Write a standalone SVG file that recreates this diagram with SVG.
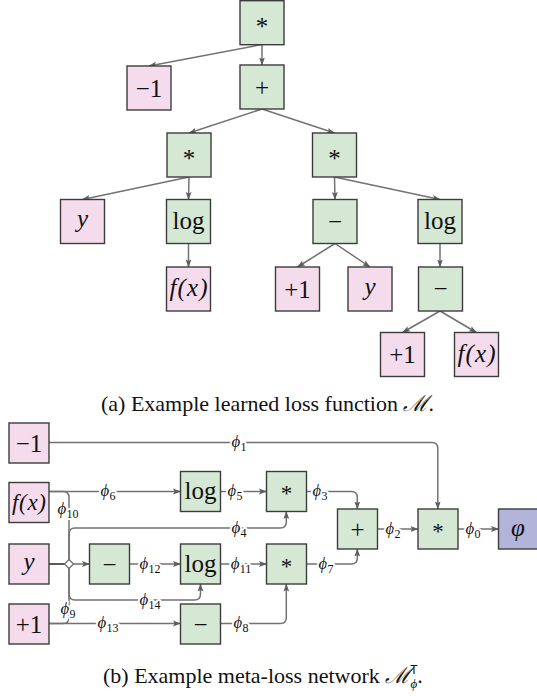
<svg xmlns="http://www.w3.org/2000/svg" width="537" height="696" viewBox="0 0 537 696">
<style>
  .pk { fill:#f4dcec; stroke:#3c3c3c; stroke-width:1.4; }
  .gn { fill:#d5e8d4; stroke:#3c3c3c; stroke-width:1.4; }
  .pu { fill:#b3b4da; stroke:#3c3c3c; stroke-width:1.4; }
  .e  { fill:none; stroke:#727272; stroke-width:1.5; }
  .ea { fill:none; stroke:#727272; stroke-width:1.5; marker-end:url(#ah); }
  .t  { font-family:"Liberation Serif",serif; font-size:25px; text-anchor:middle; fill:#111; }
  .s  { font-size:23px; }
  .i  { font-style:italic; }
  .ph { font-family:"Liberation Serif",serif; font-style:italic; font-size:17px; text-anchor:middle; fill:#111;
        stroke:#fff; stroke-width:4; stroke-linejoin:round; paint-order:stroke; }
  .sb { font-style:normal; font-size:12px; }
  .cap { font-family:"Liberation Serif",serif; font-size:22px; fill:#111; }
</style>
<defs>
  <marker id="ah" viewBox="0 0 8 7" refX="7.5" refY="3.5" markerWidth="8" markerHeight="7" markerUnits="userSpaceOnUse" orient="auto">
    <path d="M0,0.6 L8,3.5 L0,6.4 L1.6,3.5 Z" fill="#5e5e5e"/>
  </marker>
</defs>

<!-- ===== expression tree ===== -->
<g id="tree-edges">
  <line class="ea" x1="262" y1="44.5" x2="149" y2="66"/>
  <line class="ea" x1="262" y1="44.5" x2="262" y2="65"/>
  <line class="ea" x1="262" y1="109" x2="189" y2="133"/>
  <line class="ea" x1="262" y1="109" x2="334.5" y2="133"/>
  <line class="ea" x1="189" y1="177" x2="82.5" y2="199.5"/>
  <line class="ea" x1="189" y1="177" x2="188.5" y2="199.5"/>
  <line class="ea" x1="334.5" y1="177" x2="335" y2="199.5"/>
  <line class="ea" x1="334.5" y1="177" x2="440" y2="199.5"/>
  <line class="ea" x1="188.5" y1="243.5" x2="188.5" y2="267"/>
  <line class="ea" x1="335" y1="243.5" x2="297.5" y2="267"/>
  <line class="ea" x1="335" y1="243.5" x2="370" y2="267"/>
  <line class="ea" x1="440" y1="243.5" x2="440" y2="267"/>
  <line class="ea" x1="440" y1="311" x2="402.5" y2="332.5"/>
  <line class="ea" x1="440" y1="311" x2="476.5" y2="332.5"/>
</g>

<g id="t-mul-root"><rect class="gn" x="240" y="0.7" width="44" height="44"/><text class="t" x="262" y="34.5">*</text></g>
<g id="t-neg1"><rect class="pk" x="127" y="66" width="44" height="44"/><text class="t" x="149" y="96.5">−1</text></g>
<g id="t-add"><rect class="gn" x="240" y="65" width="44" height="44"/><text class="t" x="262" y="96">+</text></g>
<g id="t-mul-l"><rect class="gn" x="167" y="133" width="44" height="44"/><text class="t" x="189" y="167">*</text></g>
<g id="t-mul-r"><rect class="gn" x="312.5" y="133" width="44" height="44"/><text class="t" x="334.5" y="167">*</text></g>
<g id="t-y1"><rect class="pk" x="60.5" y="199.5" width="44" height="44"/><text class="t i" x="82.5" y="227">y</text></g>
<g id="t-log1"><rect class="gn" x="166.5" y="199.5" width="44" height="44"/><text class="t" x="188.5" y="229">log</text></g>
<g id="t-sub1"><rect class="gn" x="313" y="199.5" width="44" height="44"/><text class="t" x="335" y="229.5">−</text></g>
<g id="t-log2"><rect class="gn" x="418" y="199.5" width="44" height="44"/><text class="t" x="440" y="229">log</text></g>
<g id="t-fx1"><rect class="pk" x="166.5" y="267" width="44" height="44"/><text class="t i" x="188.5" y="296" textLength="38" lengthAdjust="spacing">f(x)</text></g>
<g id="t-pos1a"><rect class="pk" x="275.5" y="267" width="44" height="44"/><text class="t" x="297.5" y="297.5">+1</text></g>
<g id="t-y2"><rect class="pk" x="348" y="267" width="44" height="44"/><text class="t i" x="370" y="294.5">y</text></g>
<g id="t-sub2"><rect class="gn" x="418.5" y="267" width="44" height="44"/><text class="t" x="440.5" y="297">−</text></g>
<g id="t-pos1b"><rect class="pk" x="380.5" y="332.5" width="44" height="44"/><text class="t" x="402.5" y="363">+1</text></g>
<g id="t-fx2"><rect class="pk" x="454.5" y="332.5" width="44" height="44"/><text class="t i" x="476.5" y="361.5" textLength="38" lengthAdjust="spacing">f(x)</text></g>

<text class="cap" x="101" y="411">(a) Example learned loss function <tspan font-family="DejaVu Serif" font-style="italic">ℳ</tspan>.</text>

<!-- ===== meta-loss network ===== -->
<g id="net-connectors">
  <path class="ea" d="M49,442.5 H431.8 Q437.8,442.5 437.8,448.5 V509"/>
  <path class="ea" d="M49,491.5 H180.5"/>
  <path class="e" d="M49,491.5 H63 Q69,491.5 69,497.5 V564"/>
  <path class="e" d="M49,623.5 H63 Q69,623.5 69,617.5 V564"/>
  <path class="ea" d="M69,564 V534 Q69,528 75,528 H280.3 Q286.3,528 286.3,522 V511.5"/>
  <path class="ea" d="M69,564 V594 Q69,600 75,600 H194.5 Q200.5,600 200.5,594 V584"/>
  <path class="ea" d="M221,491.5 H266.5"/>
  <path class="ea" d="M306.5,491.5 H351.3 Q357.3,491.5 357.3,497.5 V509"/>
  <path class="ea" d="M377.5,529 H418"/>
  <path class="ea" d="M458,529 H498.5"/>
  <path class="e" d="M49,564 H69" style="stroke:#5a5a5a;stroke-width:2"/>
  <path class="ea" d="M69,564 H89.5"/>
  <path class="ea" d="M129.5,564 H180.5"/>
  <path class="ea" d="M221,564 H266.5"/>
  <path class="ea" d="M306.5,564 H351.3 Q357.3,564 357.3,558 V549"/>
  <path class="ea" d="M49,623.5 H180.5"/>
  <path class="ea" d="M221,623.5 H280.3 Q286.3,623.5 286.3,617.5 V584"/>
  <path d="M69,559.5 L73.5,564 L69,568.5 L64.5,564 Z" fill="#fff" stroke="#727272" stroke-width="1.3"/>

  <text class="ph" x="239" y="447">ϕ<tspan class="sb" dy="4">1</tspan></text>
  <text class="ph" x="108" y="496">ϕ<tspan class="sb" dy="4">6</tspan></text>
  <text class="ph" x="68" y="514">ϕ<tspan class="sb" dy="4">10</tspan></text>
  <text class="ph" x="235" y="496">ϕ<tspan class="sb" dy="4">5</tspan></text>
  <text class="ph" x="320" y="496">ϕ<tspan class="sb" dy="4">3</tspan></text>
  <text class="ph" x="239" y="532.5">ϕ<tspan class="sb" dy="4">4</tspan></text>
  <text class="ph" x="393" y="533.5">ϕ<tspan class="sb" dy="4">2</tspan></text>
  <text class="ph" x="473" y="533.5">ϕ<tspan class="sb" dy="4">0</tspan></text>
  <text class="ph" x="150" y="568.5">ϕ<tspan class="sb" dy="4">12</tspan></text>
  <text class="ph" x="241" y="568.5">ϕ<tspan class="sb" dy="4">11</tspan></text>
  <text class="ph" x="326" y="568.5">ϕ<tspan class="sb" dy="4">7</tspan></text>
  <text class="ph" x="150" y="604.5">ϕ<tspan class="sb" dy="4">14</tspan></text>
  <text class="ph" x="68" y="614">ϕ<tspan class="sb" dy="4">9</tspan></text>
  <text class="ph" x="108" y="628">ϕ<tspan class="sb" dy="4">13</tspan></text>
  <text class="ph" x="241" y="628">ϕ<tspan class="sb" dy="4">8</tspan></text>
</g>

<g id="n-neg1"><rect class="pk" x="9" y="423" width="40" height="40"/><text class="t" x="29" y="451.5">−1</text></g>
<g id="n-fx"><rect class="pk" x="9" y="482.5" width="40" height="40"/><text class="t i s" x="29" y="510" textLength="34" lengthAdjust="spacing">f(x)</text></g>
<g id="n-y"><rect class="pk" x="9" y="544" width="40" height="40"/><text class="t i" x="29" y="569.5">y</text></g>
<g id="n-pos1"><rect class="pk" x="9" y="604" width="40" height="40"/><text class="t" x="29" y="632.5">+1</text></g>
<g id="n-log-a"><rect class="gn" x="180.5" y="471.5" width="40" height="40"/><text class="t" x="200.5" y="499">log</text></g>
<g id="n-mul-a"><rect class="gn" x="266.5" y="471.5" width="40" height="40"/><text class="t s" x="286.5" y="501">*</text></g>
<g id="n-sub-a"><rect class="gn" x="89.5" y="544" width="40" height="40"/><text class="t" x="109.5" y="572.5">−</text></g>
<g id="n-log-b"><rect class="gn" x="180.5" y="544" width="40" height="40"/><text class="t" x="200.5" y="571.5">log</text></g>
<g id="n-mul-b"><rect class="gn" x="266.5" y="544" width="40" height="40"/><text class="t s" x="286.5" y="573.5">*</text></g>
<g id="n-sub-b"><rect class="gn" x="180.5" y="604" width="40" height="40"/><text class="t" x="200.5" y="632.5">−</text></g>
<g id="n-add"><rect class="gn" x="337.5" y="509" width="40" height="40"/><text class="t" x="357.5" y="537.5">+</text></g>
<g id="n-mul-c"><rect class="gn" x="418" y="509" width="40" height="40"/><text class="t s" x="438" y="538.5">*</text></g>
<g id="n-out"><rect class="pu" x="498.5" y="509" width="40" height="40"/><text class="t i" x="518" y="536">φ</text></g>

<text class="cap" x="103" y="683">(b) Example meta-loss network <tspan font-family="DejaVu Serif" font-style="italic">ℳ</tspan><tspan font-family="Liberation Sans,sans-serif" font-size="12" dy="-9">T</tspan><tspan font-size="13" font-style="italic" dx="-7" dy="14">ϕ</tspan><tspan dy="-5">.</tspan></text>
</svg>
